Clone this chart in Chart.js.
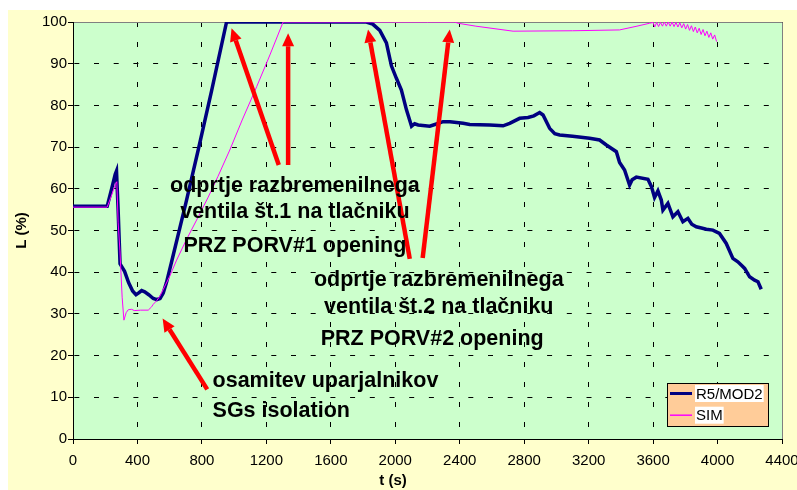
<!DOCTYPE html>
<html>
<head>
<meta charset="utf-8">
<script src="https://cdn.jsdelivr.net/npm/chart.js@4.4.1/dist/chart.umd.min.js"></script>
<style>
  html, body { margin: 0; padding: 0; background: #fff; }
  canvas { display: block; }
</style>
</head>
<body>
<canvas id="levelChart" width="797" height="490"></canvas>
<script>
// R5/MOD2 calculation, time (s) and level (%)
const r5Time = [0, 212, 240, 262, 270, 280, 292, 320, 345, 370, 391, 410, 426, 445, 470, 498, 520, 540, 560, 580,
  612, 700, 777, 860, 953, 1821, 1860, 1904, 1945, 1976, 2007, 2038, 2069, 2101, 2120, 2142, 2214, 2260, 2296, 2340,
  2421, 2462, 2586, 2669, 2710, 2772, 2824, 2860, 2896, 2917, 2958, 2990, 3020, 3100, 3206, 3268, 3310, 3372, 3392, 3423,
  3454, 3470, 3496, 3568, 3590, 3609, 3630, 3651, 3661, 3692, 3723, 3754, 3785, 3816, 3840, 3868, 3900, 3930, 3971, 4012,
  4054, 4095, 4126, 4150, 4168, 4199, 4230, 4251, 4271];
const r5Level = [55.8, 55.8, 60.0, 63.5, 64.3, 55.0, 42.0, 40.2, 37.5, 35.5, 34.6, 35.1, 35.6, 35.3, 34.6, 33.7, 33.4, 33.7, 35.0, 37.5,
  42.5, 56.5, 69.3, 83.5, 100, 100, 99.5, 98.0, 95.0, 89.5, 86.5, 83.7, 79.0, 75.0, 75.6, 75.3, 75.0, 75.6, 76.1, 76.1,
  75.7, 75.4, 75.3, 75.1, 75.7, 76.9, 77.1, 77.5, 78.3, 77.7, 74.5, 73.2, 72.9, 72.6, 72.1, 71.7, 70.5, 68.9, 66.3, 64.5,
  60.9, 62.2, 62.8, 62.3, 60.5, 57.9, 59.5, 57.3, 54.9, 56.5, 53.3, 54.5, 52.1, 52.9, 51.5, 50.9, 50.6, 50.3, 50.1, 49.3,
  46.9, 43.3, 42.5, 41.6, 40.9, 38.9, 38.1, 37.7, 35.9];

// simulator run
const simTime = [0, 212, 240, 262, 272, 280, 291, 305, 316, 330, 343, 364, 380, 420, 467, 488, 498, 520, 540, 600,
  643, 700, 767, 839, 900, 973, 1050, 1140, 1222, 1304, 2369, 2390, 2500, 2731, 3100, 3392, 3500, 3578,
  3600, 3610, 3622, 3634, 3646, 3658, 3670, 3682, 3694, 3706, 3718, 3730, 3742, 3754, 3766, 3778, 3790, 3802,
  3814, 3826, 3838, 3850, 3862, 3874, 3886, 3898, 3910, 3922, 3934, 3946, 3958, 3970, 3982, 3994];
const simLevel = [55.6, 55.6, 58.5, 61.0, 61.7, 52.0, 45.3, 34.0, 28.5, 30.3, 31.0, 31.1, 30.8, 30.9, 30.9, 31.7, 32.3, 33.2, 34.3, 39.0,
  42.9, 47.5, 52.5, 58.0, 63.0, 69.3, 76.5, 84.5, 92.1, 100, 100, 99.7, 99.0, 97.8, 97.9, 98.1, 99.0, 99.7,
  99.9, 98.8, 99.9, 98.9, 99.9, 99.0, 100, 99.0, 100, 99.0, 100, 98.9, 99.9, 98.8, 99.8, 98.6, 99.6, 98.3,
  99.4, 98.0, 99.1, 97.7, 98.8, 97.4, 98.5, 97.0, 98.2, 96.7, 97.8, 96.3, 97.4, 95.9, 96.9, 95.3];

const seriesNames = ["R5/MOD2", "SIM"];
const timeTicks = [0, 400, 800, 1200, 1600, 2000, 2400, 2800, 3200, 3600, 4000, 4400];
const levelTicks = [0, 10, 20, 30, 40, 50, 60, 70, 80, 90, 100];

// red arrows, [t, L] from tail to tip
const arrowTails = [[1277, 65.7], [1335, 65.7], [2090, 43.2], [2170, 43.4], [833, 11.9]];
const arrowTips = [[984, 98.5], [1335, 97.3], [1831, 98.2], [2338, 98.2], [556, 28.9]];

// annotation text, anchored at [t, L] (baseline)
const noteLines = ["odprtje razbremenilnega", "ventila št.1 na tlačniku", "PRZ PORV#1 opening",
  "odprtje razbremenilnega", "ventila št.2 na tlačniku", "PRZ PORV#2 opening",
  "osamitev uparjalnikov", "SGs isolation"];
const noteAnchors = [[1377, 59.3], [1377, 52.9], [1377, 44.9],
  [2270, 36.7], [2270, 30.3], [2229, 22.5],
  [866, 12.4], [866, 5.35]];
const noteAlign = ["center", "center", "center", "center", "center", "center", "left", "left"];

const FONT = '"Liberation Sans", Arial, sans-serif';
Chart.defaults.font.family = FONT;
Chart.defaults.color = '#000';

function toPoints(xs, ys) {
  return xs.map((x, i) => ({ x: x, y: ys[i] }));
}

function crisp(px) {
  return Math.round(px - 0.5) + 0.5;
}

const backgroundPlugin = {
  id: 'background',
  beforeDraw(chart) {
    const { ctx, chartArea: a } = chart;
    ctx.save();
    ctx.fillStyle = '#ffffff';
    ctx.fillRect(0, 0, chart.width, chart.height);
    ctx.fillStyle = '#ffffcc';
    ctx.fillRect(8, 10, chart.width - 8, chart.height - 10);
    ctx.fillStyle = '#ccffcc';
    ctx.fillRect(a.left, a.top, a.right - a.left, a.bottom - a.top);
    ctx.restore();
  },
  beforeDatasetsDraw(chart) {
    const { ctx, chartArea: a, scales: { x, y } } = chart;
    ctx.save();
    ctx.strokeStyle = '#000';
    ctx.lineWidth = 1;
    // dashed grid at every tick
    ctx.setLineDash([5, 15]);
    ctx.lineDashOffset = 0;
    x.ticks.forEach(t => {
      const px = crisp(x.getPixelForValue(t.value));
      ctx.beginPath();
      ctx.moveTo(px, a.top);
      ctx.lineTo(px, a.bottom);
      ctx.stroke();
    });
    ctx.setLineDash([5, 14.7]);
    ctx.lineDashOffset = 18.4;
    y.ticks.forEach(t => {
      const py = crisp(y.getPixelForValue(t.value));
      ctx.beginPath();
      ctx.moveTo(a.left, py);
      ctx.lineTo(a.right, py);
      ctx.stroke();
    });
    // grey frame on top and right, black axes on left and bottom
    ctx.setLineDash([]);
    ctx.strokeStyle = '#808080';
    ctx.beginPath();
    ctx.moveTo(a.left, crisp(a.top));
    ctx.lineTo(crisp(a.right), crisp(a.top));
    ctx.lineTo(crisp(a.right), a.bottom);
    ctx.stroke();
    ctx.strokeStyle = '#000';
    ctx.beginPath();
    ctx.moveTo(crisp(a.left), a.top);
    ctx.lineTo(crisp(a.left), crisp(a.bottom));
    ctx.lineTo(a.right, crisp(a.bottom));
    ctx.stroke();
    ctx.restore();
  }
};

function drawArrow(ctx, x1, y1, x2, y2) {
  const ang = Math.atan2(y2 - y1, x2 - x1);
  const head = 13, half = 6;
  const bx = x2 - head * Math.cos(ang), by = y2 - head * Math.sin(ang);
  ctx.beginPath();
  ctx.moveTo(x1, y1);
  ctx.lineTo(bx, by);
  ctx.stroke();
  ctx.beginPath();
  ctx.moveTo(x2, y2);
  ctx.lineTo(bx + half * Math.sin(ang), by - half * Math.cos(ang));
  ctx.lineTo(bx - half * Math.sin(ang), by + half * Math.cos(ang));
  ctx.closePath();
  ctx.fill();
}

const notesPlugin = {
  id: 'notes',
  afterDatasetsDraw(chart) {
    const { ctx, scales: { x, y } } = chart;
    ctx.save();
    ctx.strokeStyle = '#ff0000';
    ctx.fillStyle = '#ff0000';
    ctx.lineWidth = 4.5;
    arrowTails.forEach((tail, i) => {
      const tip = arrowTips[i];
      drawArrow(ctx, x.getPixelForValue(tail[0]), y.getPixelForValue(tail[1]),
        x.getPixelForValue(tip[0]), y.getPixelForValue(tip[1]));
    });
    ctx.fillStyle = '#000';
    ctx.font = 'bold 21.5px ' + FONT;
    ctx.textBaseline = 'alphabetic';
    noteLines.forEach((txt, i) => {
      ctx.textAlign = noteAlign[i];
      ctx.fillText(txt, x.getPixelForValue(noteAnchors[i][0]), y.getPixelForValue(noteAnchors[i][1]));
    });
    ctx.restore();
  },
  afterDraw(chart) {
    const { ctx } = chart;
    ctx.save();
    // x axis title
    ctx.fillStyle = '#000';
    ctx.font = 'bold 15px ' + FONT;
    ctx.textAlign = 'center';
    ctx.textBaseline = 'middle';
    ctx.fillText('t (s)', 393, 481);

    // legend box
    const lx = 667, ly = 383, lw = 101, lh = 43;
    ctx.fillStyle = '#ffcc99';
    ctx.fillRect(lx, ly, lw, lh);
    ctx.strokeStyle = '#000';
    ctx.lineWidth = 1;
    ctx.strokeRect(lx + 0.5, ly + 0.5, lw, lh);
    ctx.font = '15px ' + FONT;
    ctx.textAlign = 'left';
    chart.data.datasets.forEach((ds, i) => {
      const cy = ly + 10.5 + i * 21.7;
      ctx.strokeStyle = ds.borderColor;
      ctx.lineWidth = i === 0 ? 3 : 1.5;
      ctx.beginPath();
      ctx.moveTo(lx + 3, cy);
      ctx.lineTo(lx + 25, cy);
      ctx.stroke();
      const tw = ctx.measureText(ds.label).width;
      ctx.fillStyle = '#fff';
      ctx.fillRect(lx + 28, cy - 8.5, tw + 2, 17);
      ctx.fillStyle = '#000';
      ctx.fillText(ds.label, lx + 29, cy + 1);
    });
    ctx.restore();
  }
};

const ctx = document.getElementById('levelChart').getContext('2d');
const levelChart = new Chart(ctx, {
  type: 'scatter',
  data: {
    datasets: [{
      label: seriesNames[0],
      data: toPoints(r5Time, r5Level),
      showLine: true,
      borderColor: '#000080',
      borderWidth: 3.5,
      pointRadius: 0,
      tension: 0,
      order: 1
    }, {
      label: seriesNames[1],
      data: toPoints(simTime, simLevel),
      showLine: true,
      borderColor: '#ff00ff',
      borderWidth: 1,
      pointRadius: 0,
      tension: 0,
      order: 0
    }]
  },
  options: {
    responsive: false,
    animation: false,
    devicePixelRatio: 1,
    layout: { padding: { left: 0, top: 22, right: 15, bottom: 0 } },
    plugins: { legend: { display: false }, tooltip: { enabled: false } },
    scales: {
      x: {
        type: 'linear',
        min: 0,
        max: 4400,
        afterBuildTicks: s => { s.ticks = timeTicks.map(v => ({ value: v })); },
        afterFit: s => { s.height = 51; s.paddingLeft = 0; s.paddingRight = 0; },
        ticks: { padding: 8, maxRotation: 0, autoSkip: false, font: { size: 15 }, color: '#000', callback: v => String(v) },
        grid: { drawOnChartArea: false, color: '#000', tickColor: '#000', tickLength: 5 },
        border: { display: true, color: '#000', width: 1 }
      },
      y: {
        type: 'linear',
        min: 0,
        max: 100,
        afterBuildTicks: s => { s.ticks = levelTicks.map(v => ({ value: v })); },
        afterFit: s => { s.width = 73; s.paddingTop = 0; s.paddingBottom = 0; },
        ticks: { padding: 1, autoSkip: false, font: { size: 15 }, color: '#000', callback: v => String(v) },
        grid: { drawOnChartArea: false, color: '#000', tickColor: '#000', tickLength: 5 },
        border: { display: true, color: '#000', width: 1 },
        title: { display: true, text: 'L (%)', color: '#000', font: { size: 15, weight: 'bold' }, padding: { top: 13, bottom: 0 } }
      }
    }
  },
  plugins: [backgroundPlugin, notesPlugin]
});
</script>
</body>
</html>
